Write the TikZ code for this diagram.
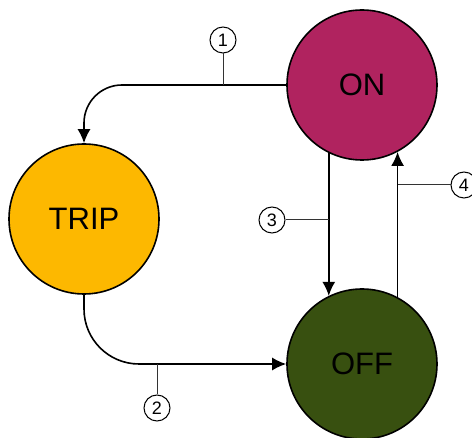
\documentclass[tikz,border=0pt]{standalone}
\usepackage{fontspec}
\setmainfont{Liberation Sans}
\usetikzlibrary{arrows.meta}

\definecolor{onmag}{RGB}{176,35,95}
\definecolor{tripamber}{RGB}{253,184,0}
\definecolor{offgreen}{RGB}{56,80,16}

\begin{document}
\begin{tikzpicture}
            [
                x=1pt, y=-1pt,
                state/.style={circle, draw, line width=1.6pt, minimum size=150pt, inner sep=0pt,
                    font=\fontsize{31}{36}\selectfont},
                tag/.style={circle, draw, line width=1pt, minimum size=26pt, inner sep=0pt,
                    font=\fontsize{18}{20}\selectfont},
                leader/.style={line width=1pt, black!80},
                ->, >={Latex[length=14pt,width=13pt]}, line width=1.6pt
            ]
            \useasboundingbox (0,0) rectangle (472,438);
            \node[state, fill=onmag] (on) at (362,85) {ON};
            \node[state, fill=tripamber] (trip) at (84,219) {TRIP};
            \node[state, fill=offgreen] (off) at (362,364) {OFF};

            \draw[rounded corners=38pt] (on.west) -| (trip.north);
            \draw[rounded corners=55pt] (trip.south) |- (off.west);
            \draw (on.244) -- (on.244 |- off.116);
            \draw (off.62) -- (off.62 |- on.298);

            % number tags
            \node[tag] (t1) at (223,40) {1};
            \node[tag] (t2) at (157,408) {2};
            \node[tag] (t3) at (272,220) {3};
            \node[tag] (t4) at (464,185) {4};
            \draw[leader, -] (t1) -- (t1 |- on.west);
            \draw[leader, -] (t2) -- (t2 |- off.west);
            \draw[leader, -] (t3) -- (t3 -| on.244);
            \draw[leader, -] (t4) -- (t4 -| on.298);
\end{tikzpicture}
\end{document}
